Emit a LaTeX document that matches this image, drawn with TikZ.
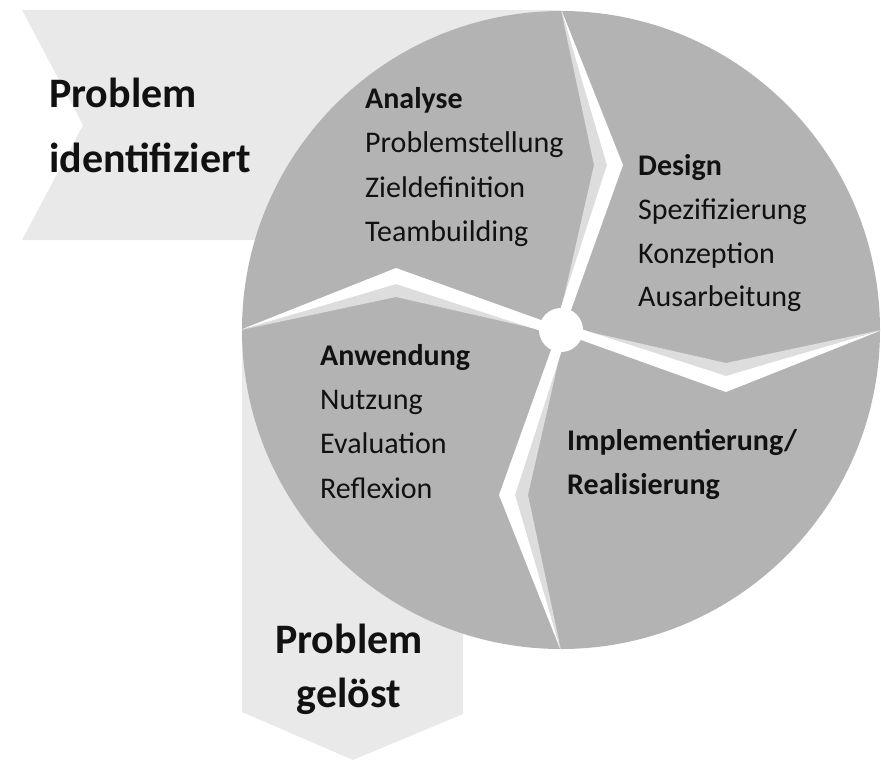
\documentclass[tikz,border=0pt]{standalone}
\usepackage{fontspec}
\setmainfont{Carlito}
\definecolor{segGray}{RGB}{179,179,179}
\definecolor{shadeGray}{RGB}{221,221,221}
\definecolor{bandGray}{RGB}{233,233,233}
\definecolor{inkBlack}{RGB}{17,17,17}
\begin{document}
\begin{tikzpicture}[x=1pt,y=-1pt,
  bigtitle/.style={anchor=base west,inner sep=0pt,text=inkBlack,
    font=\fontsize{42}{50}\selectfont\bfseries},
  bigtitlec/.style={bigtitle,anchor=base},
  phasehead/.style={anchor=base west,inner sep=0pt,text=inkBlack,
    font=\fontsize{30}{36}\selectfont\bfseries},
  phaseitem/.style={anchor=base west,inner sep=0pt,text=inkBlack,
    font=\fontsize{30}{36}\selectfont},
  hubdot/.style={circle,fill=white,minimum size=44pt,inner sep=0pt}]
\useasboundingbox (0,0) rectangle (881,761);

% entry band (notched) and exit band (pointed)
\fill[bandGray] (22,10) -- (561,10) -- (561,240) -- (22,240) -- (83,125) -- cycle;
\fill[bandGray] (242,335) -- (463,335) -- (463,714) -- (353,760) -- (242,712) -- cycle;

% the cycle disc
\fill[segGray] (561,330) circle[radius=319pt];

% chevron separators between the four phases
\foreach \ang in {90,0,-90,180}{
  \begin{scope}[shift={(561,330)},rotate=\ang]
    \fill[shadeGray] (20,0) -- (165,33) -- (320,0) -- (165,47) -- cycle;
    \fill[white] (321,0) -- (165,62) -- (20,10) -- (20,-1) -- (165,46) -- cycle;
  \end{scope}
}
\node[hubdot] (hub) at (561,330) {};

% start and end labels
\node[bigtitle] (startA) at (49,107) {Problem};
\node[bigtitle] (startB) at (49,172) {identifiziert};
\node[bigtitlec] (endA) at (349,653) {Problem};
\node[bigtitlec] (endB) at (349,707) {gelöst};

% phase: Analyse
\node[phasehead] (anaH) at (365,108) {Analyse};
\node[phaseitem] (ana1) at (365,152) {Problemstellung};
\node[phaseitem] (ana2) at (365,197) {Zieldefinition};
\node[phaseitem] (ana3) at (365,241) {Teambuilding};

% phase: Design
\node[phasehead] (desH) at (638,175) {Design};
\node[phaseitem] (des1) at (638,219) {Spezifizierung};
\node[phaseitem] (des2) at (638,263) {Konzeption};
\node[phaseitem] (des3) at (638,306) {Ausarbeitung};

% phase: Implementierung
\node[phasehead] (impA) at (567,450) {Implementierung/};
\node[phasehead] (impB) at (567,494) {Realisierung};

% phase: Anwendung
\node[phasehead] (anwH) at (320,365) {Anwendung};
\node[phaseitem] (anw1) at (320,409) {Nutzung};
\node[phaseitem] (anw2) at (320,453) {Evaluation};
\node[phaseitem] (anw3) at (320,498) {Reflexion};
\end{tikzpicture}
\end{document}
